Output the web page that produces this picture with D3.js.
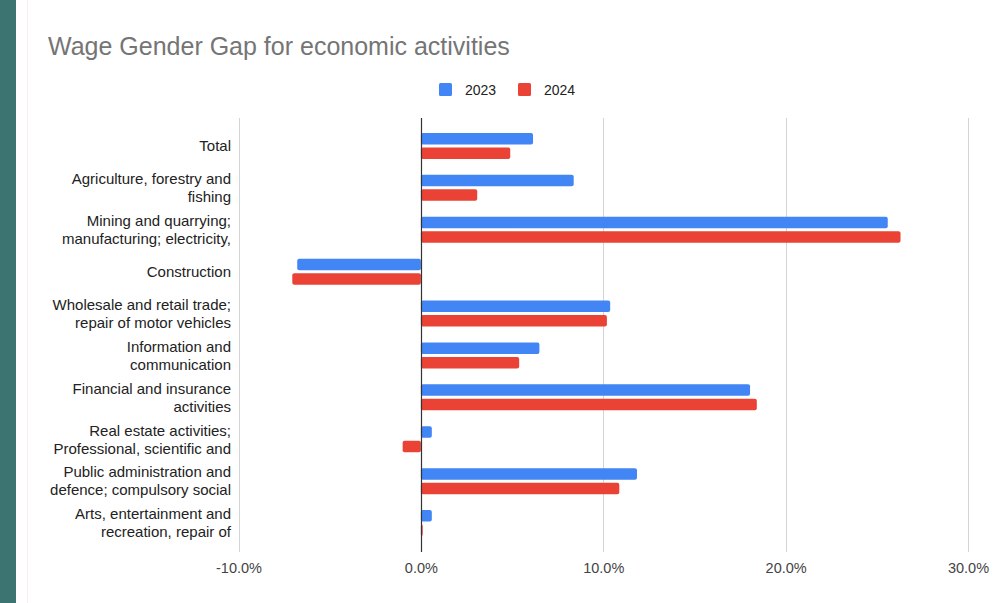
<!DOCTYPE html>
<html>
<head>
<meta charset="utf-8">
<script src="https://cdn.jsdelivr.net/npm/d3@7/dist/d3.min.js"></script>
<style>
  html, body { margin: 0; padding: 0; background: #ffffff; }
  svg { display: block; font-family: Arial, "Liberation Sans", Helvetica, sans-serif; }
</style>
</head>
<body>
<svg id="chart" width="993" height="603"></svg>
<script>
// Economic activity categories (label lines as shown on the axis)
const categories = [
  ["Total"],
  ["Agriculture, forestry and", "fishing"],
  ["Mining and quarrying;", "manufacturing; electricity,"],
  ["Construction"],
  ["Wholesale and retail trade;", "repair of motor vehicles"],
  ["Information and", "communication"],
  ["Financial and insurance", "activities"],
  ["Real estate activities;", "Professional, scientific and"],
  ["Public administration and", "defence; compulsory social"],
  ["Arts, entertainment and", "recreation, repair of"]
];

// Wage gender gap, percent
const values2023 = [6.15, 8.38, 25.6, -6.78, 10.38, 6.5, 18.05, 0.6, 11.85, 0.6];
const values2024 = [4.9, 3.09, 26.3, -7.05, 10.2, 5.39, 18.42, -1.0, 10.88, 0.1];

const seriesNames = ["2023", "2024"];
const seriesColors = ["#4285f4", "#ea4335"];
const xTicks = [-10, 0, 10, 20, 30];

const svg = d3.select("#chart");

// Side accent strip and card edge
svg.append("rect").attr("x", 0).attr("y", 0).attr("width", 16).attr("height", 603).attr("fill", "#3b7471");
svg.append("line").attr("x1", 27.5).attr("x2", 27.5).attr("y1", 0).attr("y2", 603)
  .attr("stroke", "#f6efee").attr("stroke-width", 1);

// Title
svg.append("text")
  .attr("x", 48).attr("y", 55)
  .attr("font-size", 25).attr("fill", "#757575")
  .text("Wage Gender Gap for economic activities");

// Legend
const legend = svg.append("g");
const legendX = [439, 518];
seriesNames.forEach((name, i) => {
  legend.append("rect").attr("x", legendX[i]).attr("y", 83).attr("width", 13).attr("height", 13)
    .attr("rx", 1.5).attr("fill", seriesColors[i]);
  legend.append("text").attr("x", legendX[i] + 26).attr("y", 95)
    .attr("font-size", 14).attr("fill", "#222").text(name);
});

// Scales
const plotTop = 118, plotBottom = 552;
const x = d3.scaleLinear().domain([-10, 30]).range([238.5, 968]);
const y = d3.scaleBand().domain(d3.range(categories.length)).range([125, 544]);

// Vertical gridlines
const grid = svg.append("g");
grid.selectAll("line").data(xTicks.filter(t => t !== 0)).join("line")
  .attr("x1", d => Math.round(x(d)) + 0.5).attr("x2", d => Math.round(x(d)) + 0.5)
  .attr("y1", plotTop).attr("y2", plotBottom)
  .attr("stroke", "#d4d4d4").attr("stroke-width", 1);

// Bars
const barH = 11.5, barGap = 3;
const groupH = barH * 2 + barGap;
const seriesValues = [values2023, values2024];
seriesValues.forEach((vals, s) => {
  svg.append("g").selectAll("rect").data(vals).join("rect")
    .attr("x", d => Math.min(x(0), x(d)))
    .attr("width", d => Math.max(1, Math.abs(x(d) - x(0))))
    .attr("y", (d, i) => y(i) + y.bandwidth() / 2 - groupH / 2 + s * (barH + barGap))
    .attr("height", barH)
    .attr("rx", 2)
    .attr("fill", seriesColors[s]);
});

// Zero baseline
svg.append("line")
  .attr("x1", Math.round(x(0)) + 0.5).attr("x2", Math.round(x(0)) + 0.5)
  .attr("y1", plotTop).attr("y2", plotBottom)
  .attr("stroke", "#333").attr("stroke-width", 1.2);

// X axis tick labels (plain hyphen for negatives)
const xAxis = d3.axisBottom(x).tickValues(xTicks).tickSize(0).tickPadding(0)
  .tickFormat(d => d.toFixed(1) + "%");
const gx = svg.append("g").attr("transform", `translate(0, ${plotBottom + 11})`).call(xAxis);
gx.select(".domain").remove();
gx.selectAll("text").attr("font-size", 14.5).attr("fill", "#444")
  .attr("font-family", "Arial, 'Liberation Sans', sans-serif");

// Category labels
const yLabels = svg.append("g");
categories.forEach((lines, i) => {
  const cy = y(i) + y.bandwidth() / 2;
  const lineH = 18;
  const t = yLabels.append("text")
    .attr("text-anchor", "end").attr("font-size", 15).attr("fill", "#222");
  lines.forEach((ln, j) => {
    t.append("tspan").attr("x", 231)
      .attr("y", cy + (j - (lines.length - 1) / 2) * lineH)
      .attr("dy", "0.35em").text(ln);
  });
});
</script>
</body>
</html>
